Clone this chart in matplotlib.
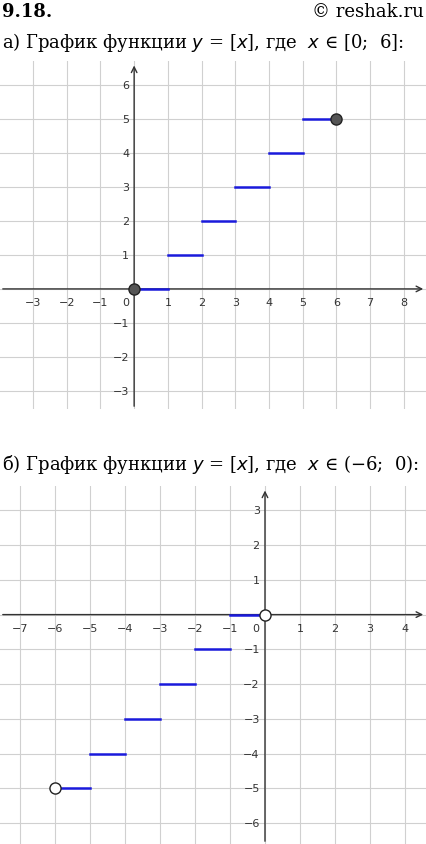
import numpy as np
import matplotlib
matplotlib.use("Agg")
import matplotlib.pyplot as plt

# step segments: start of each segment and its level, as drawn
starts_a = [0, 1, 2, 3, 4, 5]
levels_a = [0, 1, 2, 3, 4, 5]
starts_b = [-6, -5, -4, -3, -2, -1]
levels_b = [-5, -4, -3, -2, -1, 0]

W, H = 426, 845
fig = plt.figure(figsize=(W / 100, H / 100), dpi=100)


def draw_axes(rect, xlim, ylim, xticks, yticks):
    ax = fig.add_axes(rect)
    ax.set_xlim(*xlim)
    ax.set_ylim(*ylim)
    ax.axis("off")
    for gx in range(int(np.ceil(xlim[0])), int(np.floor(xlim[1])) + 1):
        ax.axvline(gx, color="#d0d0d0", lw=0.8, zorder=0)
    for gy in range(int(np.ceil(ylim[0])), int(np.floor(ylim[1])) + 1):
        ax.axhline(gy, color="#d0d0d0", lw=0.8, zorder=0)
    ax.annotate("", xy=(xlim[1], 0), xytext=(xlim[0], 0),
                arrowprops=dict(arrowstyle="->", color="#333333", lw=1))
    ax.annotate("", xy=(0, ylim[1] - 0.05), xytext=(0, ylim[0]),
                arrowprops=dict(arrowstyle="->", color="#333333", lw=1))
    for t in xticks:
        ax.text(t, -0.25, "\u2212%d" % -t if t < 0 else str(t), ha="center", va="top",
                fontsize=8, color="#333333")
    ax.text(-0.15, -0.25, "0", ha="right", va="top", fontsize=8, color="#333333")
    for t in yticks:
        ax.text(-0.15, t, "\u2212%d" % -t if t < 0 else str(t), ha="right", va="center",
                fontsize=8, color="#333333")
    return ax


# top chart
ax1 = draw_axes([0, 1 - 410 / H, 1, 348 / H], (-3.98, 8.66), (-3.53, 6.7),
                [-3, -2, -1, 1, 2, 3, 4, 5, 6, 7, 8], [1, 2, 3, 4, 5, 6, -1, -2, -3])
for s, lv in zip(starts_a, levels_a):
    ax1.plot([s, s + 1], [lv, lv], color="#1a1adc", lw=1.8, zorder=3)
ax1.plot([starts_a[0], starts_a[-1] + 1], [levels_a[0], levels_a[-1]], "o", ms=8,
         mfc="#555555", mec="#222222", zorder=4)

# bottom chart
ax2 = draw_axes([0, 0, 1, 358 / H], (-7.57, 4.6), (-6.6, 3.7),
                [-7, -6, -5, -4, -3, -2, -1, 1, 2, 3, 4], [1, 2, 3, -1, -2, -3, -4, -5, -6])
for s, lv in zip(starts_b, levels_b):
    ax2.plot([s, s + 1], [lv, lv], color="#1a1adc", lw=1.8, zorder=3)
ax2.plot([starts_b[0], starts_b[-1] + 1], [levels_b[0], levels_b[-1]], "o", ms=8,
         mfc="white", mec="#222222", zorder=4)

fig.text(0.005, 1 - 12 / H, "9.18.", fontsize=13, fontweight="bold", va="center",
         family="DejaVu Serif")
fig.text(0.995, 1 - 12 / H, "© reshak.ru", fontsize=13, ha="right", va="center",
         family="DejaVu Serif")
fig.text(0.005, 1 - 43 / H, "а) График функции $y$ = [$x$], где  $x$ ∈ [0;  6]:",
         fontsize=13, va="center", family="DejaVu Serif")
fig.text(0.005, 1 - 465 / H, "б) График функции $y$ = [$x$], где  $x$ ∈ (−6;  0):",
         fontsize=13, va="center", family="DejaVu Serif")

fig.savefig("out.png", dpi=100)
